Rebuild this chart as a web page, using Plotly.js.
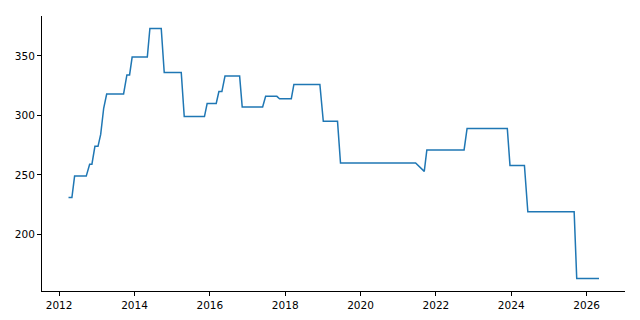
<!DOCTYPE html>
<html>
<head>
<meta charset="utf-8">
<script src="https://cdn.plot.ly/plotly-3.0.1.min.js"></script>
<style>html,body{margin:0;padding:0;background:#fff;}#chart{width:640px;height:320px;}</style>
</head>
<body>
<div id="chart"></div>
<script>
const dates = [
  "2012-04-01","2012-05-04","2012-05-30","2012-09-20","2012-10-23","2012-11-14",
  "2012-12-13","2013-01-12","2013-02-07","2013-03-08","2013-04-06","2013-09-17",
  "2013-10-19","2013-11-14","2013-12-09","2014-05-05","2014-05-30","2014-09-17",
  "2014-10-16","2015-03-30","2015-04-28","2015-11-10","2015-12-06","2016-03-03",
  "2016-03-29","2016-04-27","2016-05-27","2016-10-16","2016-11-10","2017-05-27",
  "2017-06-25","2017-10-12","2017-11-07","2018-03-01","2018-03-26","2018-12-03",
  "2019-01-05","2019-05-23","2019-06-21","2021-06-18","2021-09-10","2021-10-05",
  "2022-10-01","2022-10-30","2023-11-24","2023-12-20","2024-05-08","2024-06-10",
  "2025-09-02","2025-09-27","2026-05-01"
];
const values = [
  231,231,249,249,259,259,
  274,274,284,306,318,318,
  334,334,349,349,373,373,
  336,336,299,299,310,310,
  320,320,333,333,307,307,
  316,316,314,314,326,326,
  295,295,260,260,253,271,
  271,289,289,258,258,219,
  219,163,163
];
const yTicks = [200, 250, 300, 350];

const trace = {
  x: dates, y: values, type: "scatter", mode: "lines",
  line: {color: "#1f77b4", width: 1.5}, hoverinfo: "skip"
};

const axisFont = {family: "DejaVu Sans", size: 10.5, color: "#000"};
const layout = {
  width: 640, height: 320,
  margin: {l: 42, r: 15, t: 16, b: 29},
  paper_bgcolor: "#fff", plot_bgcolor: "#fff",
  showlegend: false,
  xaxis: {
    type: "date",
    range: ["2011-07-19", "2027-01-08"],
    tick0: "2012-01-01", dtick: "M24", tickformat: "%Y",
    showgrid: false, zeroline: false,
    showline: true, linecolor: "#000", linewidth: 1,
    ticks: "outside", ticklen: 4, tickcolor: "#000", tickwidth: 1,
    tickfont: axisFont
  },
  yaxis: {
    range: [152.5, 383.5],
    tickvals: yTicks,
    showgrid: false, zeroline: false,
    showline: true, linecolor: "#000", linewidth: 1,
    ticks: "outside", ticklen: 4, tickcolor: "#000", tickwidth: 1,
    tickfont: axisFont
  }
};

Plotly.newPlot("chart", [trace], layout, {staticPlot: true, displayModeBar: false});
</script>
</body>
</html>
